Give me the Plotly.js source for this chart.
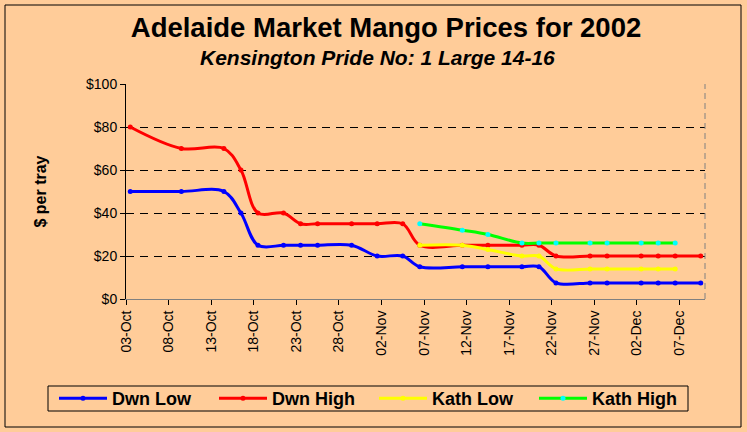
<!DOCTYPE html>
<html>
<head>
<meta charset="utf-8">
<script src="https://cdn.plot.ly/plotly-3.0.1.min.js"></script>
<style>
  html, body { margin: 0; padding: 0; background: #FFCC99; }
  #chart { width: 747px; height: 432px; }
</style>
</head>
<body>
<div id="chart"></div>
<script>
// Dates of market reports (Darwin series)
const dwnDates = ['2002-10-03','2002-10-09','2002-10-14','2002-10-16','2002-10-18','2002-10-21',
  '2002-10-23','2002-10-25','2002-10-29','2002-11-01','2002-11-04','2002-11-06','2002-11-11',
  '2002-11-14','2002-11-18','2002-11-20','2002-11-22','2002-11-26','2002-11-28','2002-12-02',
  '2002-12-04','2002-12-06','2002-12-09'];
const dwnLow  = [50,50,50,40,25,25,25,25,25,20,20,15,15,15,15,15,7.5,7.5,7.5,7.5,7.5,7.5,7.5];
const dwnHigh = [80,70,70,60,40,40,35,35,35,35,35,25,25,25,25,25,20,20,20,20,20,20,20];

// Katherine series
const kathDates = ['2002-11-06','2002-11-11','2002-11-14','2002-11-18','2002-11-20','2002-11-22',
  '2002-11-26','2002-11-28','2002-12-02','2002-12-04','2002-12-06'];
const kathLow  = [25,25,23,20,20,14,14,14,14,14,14];
const kathHigh = [35,32,30,26,26,26,26,26,26,26,26];

const seriesNames = ['Dwn Low','Dwn High','Kath Low','Kath High'];
const yTickVals = [0,20,40,60,80,100];
const yTickText = ['$0','$20','$40','$60','$80','$100'];

const FONT = 'Arial, "Liberation Sans", sans-serif';
const DAY = 86400000;

function tr(name, x, y, lineColor, markerColor) {
  return {
    type: 'scatter', mode: 'lines+markers', name: name, x: x, y: y,
    xperiod: DAY, xperiodalignment: 'middle',
    line: {color: lineColor, width: 3, shape: 'spline', smoothing: 1},
    marker: {color: markerColor, size: 5, symbol: 'circle'},
    hoverinfo: 'x+y'
  };
}

const data = [
  tr(seriesNames[0], dwnDates, dwnLow, '#0000FF', '#0000FF'),
  tr(seriesNames[1], dwnDates, dwnHigh, '#FF0000', '#FF0000'),
  tr(seriesNames[2], kathDates, kathLow, '#FFFF00', '#FFFF00'),
  tr(seriesNames[3], kathDates, kathHigh, '#00FF00', '#00FFFF')
];

// pixel helpers for decorative frame / legend placement
const PL = 126, PW = 579, PB = 299, PH = 215;
const px = v => (v - PL) / PW;
const py = v => (PB - v) / PH;

const layout = {
  width: 747, height: 432,
  paper_bgcolor: '#FFCC99', plot_bgcolor: '#FFCC99',
  margin: {l: 126, r: 42, t: 84, b: 133, pad: 0},
  font: {family: FONT, color: '#000', size: 14},
  showlegend: true,
  title: {
    text: '<b>Adelaide Market Mango Prices for 2002</b>',
    font: {family: FONT, size: 27.5, color: '#000'},
    x: 386/747, xref: 'container', xanchor: 'center',
    y: 1 - 27/432, yref: 'container', yanchor: 'middle'
  },
  annotations: [{
    text: '<b><i>Kensington Pride No: 1 Large 14-16</i></b>',
    xref: 'paper', yref: 'paper',
    x: px(377.5), y: py(58),
    xanchor: 'center', yanchor: 'middle', showarrow: false,
    font: {family: FONT, size: 21, color: '#000'}
  }],
  xaxis: {
    type: 'date',
    range: ['2002-10-03', '2002-12-10'],
    tick0: '2002-10-03', dtick: 5*DAY,
    tickformat: '%d-%b', tickangle: -90,
    ticks: 'outside', ticklen: 5, tickcolor: '#000', tickwidth: 1,
    showline: true, linecolor: '#808080', linewidth: 1,
    showgrid: false, zeroline: false,
    tickfont: {family: FONT, size: 14, color: '#000'}
  },
  yaxis: {
    range: [0, 100],
    tickvals: yTickVals, ticktext: yTickText,
    ticks: 'outside', ticklen: 5, tickcolor: '#000', tickwidth: 1,
    showline: true, linecolor: '#000', linewidth: 1,
    showgrid: true, gridcolor: '#000', gridwidth: 1, griddash: '8px,6px',
    zeroline: false,
    tickfont: {family: FONT, size: 14, color: '#000'},
    title: {text: '<b>$ per tray</b>', font: {family: FONT, size: 16, color: '#000'}, standoff: 35}
  },
  legend: {
    orientation: 'h',
    x: px(54), xanchor: 'left',
    y: py(398.5), yanchor: 'middle',
    bgcolor: 'rgba(0,0,0,0)', borderwidth: 0,
    font: {family: FONT, size: 18, color: '#000', weight: 'bold'},
    itemwidth: 48,
    entrywidth: 97, entrywidthmode: 'pixels',
    traceorder: 'normal'
  },
  shapes: [
    {type: 'line', xref: 'paper', yref: 'paper', x0: 1, x1: 1, y0: 0, y1: 1,
     line: {color: '#808080', width: 1, dash: '6px,4px'}},
    {type: 'rect', xref: 'paper', yref: 'paper',
     x0: px(48), x1: px(688), y0: py(411), y1: py(386),
     line: {color: '#000', width: 1}, fillcolor: 'rgba(0,0,0,0)'},
    {type: 'rect', xref: 'paper', yref: 'paper',
     x0: px(5), x1: px(741), y0: py(427), y1: py(5),
     line: {color: '#000', width: 1}, fillcolor: 'rgba(0,0,0,0)'}
  ]
};

Plotly.newPlot('chart', data, layout, {displayModeBar: false, staticPlot: true});
</script>
</body>
</html>
